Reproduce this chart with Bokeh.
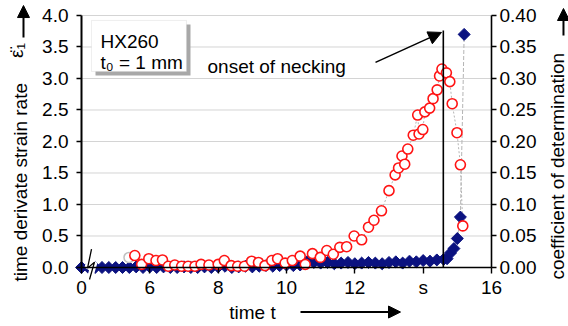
import math
from bokeh.plotting import figure
from bokeh.models import (Range1d, FixedTicker, Label, Arrow, NormalHead,
                          BoxAnnotation, NumeralTickFormatter, LinearAxis)
from bokeh.embed import file_html
from bokeh.resources import INLINE

FONT = "Liberation Sans"

# ---------------- data ----------------
# time derivative of strain rate (left axis)
blue_t = [4.0, 4.2, 4.4, 4.6, 4.8, 5.0, 5.2, 5.4, 5.6, 5.8, 6.0, 6.2, 6.4, 6.6, 6.8,
          7.0, 7.2, 7.4, 7.6, 7.8, 8.0, 8.2, 8.4, 8.6, 8.8, 9.0, 9.2, 9.4, 9.6, 9.8,
          10.0, 10.2, 10.4, 10.6, 10.8, 11.0, 11.2, 11.4, 11.6, 11.8, 12.0, 12.2, 12.4,
          12.6, 12.8, 13.0, 13.2, 13.4, 13.6, 13.8, 14.0, 14.2, 14.4, 14.6,
          14.7, 14.8, 14.9, 15.0, 15.09, 15.2]
blue_v = [0, 0, 0, 0, 0, 0, 0, 0,
          0.01, 0, 0.01, 0, 0.01, 0, 0, 0.01, 0, 0,
          0.01, 0, 0.01, 0.02, 0, 0.01, 0.02, 0.01, 0.02, 0.03,
          0.02, 0.03, 0.04, 0.03, 0.04,
          0.09, 0.08, 0.07, 0.08, 0.06, 0.07, 0.08, 0.06, 0.07, 0.08,
          0.07, 0.06, 0.08, 0.09, 0.07, 0.10, 0.09, 0.11, 0.10, 0.12, 0.13,
          0.14, 0.23, 0.30, 0.46, 0.80, 3.70]

# coefficient of determination (right axis)
red_t = [5.56, 5.76, 5.97, 6.18, 6.37, 6.54, 6.73, 6.93, 7.12, 7.32, 7.50, 7.73, 8.00,
         8.18, 8.38, 8.57, 8.77, 8.98, 9.18, 9.37, 9.57, 9.74, 9.96, 10.17, 10.40,
         10.55, 10.76, 10.99, 11.18, 11.37, 11.56, 11.76, 11.98, 12.20, 12.40, 12.56,
         12.78, 13.00, 13.18, 13.28, 13.38, 13.46, 13.55, 13.71, 13.84, 13.88, 13.99,
         14.05, 14.19, 14.29, 14.41, 14.48, 14.55, 14.68, 14.78, 14.85, 14.99, 15.09, 15.16]
red_v = [0.019, 0.005, 0.014, 0.011, 0.012, 0.002, 0.004, 0.002, 0.002, 0.002, 0.005,
         0.004, 0.005, 0.011, 0.003, 0.002, 0.002, 0.010, 0.008, 0.003, 0.011, 0.014,
         0.007, 0.011, 0.018, 0.005, 0.022, 0.016, 0.027, 0.021, 0.032, 0.033, 0.050,
         0.044, 0.064, 0.075, 0.090, 0.122, 0.147, 0.158, 0.177, 0.164, 0.188, 0.210,
         0.242, 0.212, 0.219, 0.247, 0.253, 0.268, 0.282, 0.304, 0.315, 0.309, 0.295,
         0.260, 0.214, 0.163, 0.066]

gray_t = [5.39]
gray_v = [0.016]

x_ticks = [4, 6, 8, 10, 12, 14, 16]
x_tick_labels = {4: "0", 14: "s"}
left_ticks = [0, 0.5, 1.0, 1.5, 2.0, 2.5, 3.0, 3.5, 4.0]
right_ticks = [0, 0.05, 0.10, 0.15, 0.20, 0.25, 0.30, 0.35, 0.40]

t_min, t_max = 4, 16
necking_t = 14.59
necking_top = 3.76

# ---------------- figure ----------------
# the frame covers the whole canvas; axes are pinned with fixed_location
p = figure(width=568, height=326, x_range=Range1d(1.629, 18.254),
           y_range=Range1d(-0.9365, 4.238),
           output_backend="svg", toolbar_location=None,
           min_border_left=0, min_border_right=0, min_border_top=0, min_border_bottom=0)
p.extra_y_ranges = {"right": Range1d(-0.09365, 0.4238)}
p.outline_line_color = None
p.background_fill_color = "white"
p.border_fill_color = "white"
p.xgrid.visible = False
p.ygrid.visible = False

# horizontal grid lines between the two y axes
p.segment(x0=[t_min] * len(left_ticks), y0=left_ticks, x1=[t_max] * len(left_ticks),
          y1=left_ticks, line_color="#d4d4d4", line_width=1)

def style_axis(ax):
    ax.axis_line_color = "black"
    ax.axis_line_width = 1.6
    ax.major_tick_line_color = "black"
    ax.major_tick_line_width = 1.4
    ax.major_tick_in = 0
    ax.major_tick_out = 5
    ax.minor_tick_in = 0
    ax.minor_tick_out = 0
    ax.major_label_text_font = FONT
    ax.major_label_text_font_size = "19px"
    ax.major_label_text_color = "black"

xa = p.xaxis[0]
xa.ticker = FixedTicker(ticks=x_ticks)
xa.major_label_overrides = x_tick_labels
xa.fixed_location = 0
xa.bounds = (t_min, t_max)
style_axis(xa)
xa.major_tick_out = 6
xa.major_label_standoff = 4

ya = p.yaxis[0]
ya.ticker = FixedTicker(ticks=left_ticks)
ya.formatter = NumeralTickFormatter(format="0.0")
ya.fixed_location = t_min
ya.bounds = (0, 4)
style_axis(ya)
ya.axis_line_width = 2
ya.major_label_standoff = 8

ra = LinearAxis(y_range_name="right", ticker=FixedTicker(ticks=right_ticks),
                formatter=NumeralTickFormatter(format="0.00"))
ra.fixed_location = t_max
ra.bounds = (0, 0.4)
style_axis(ra)
ra.major_label_standoff = 3
p.add_layout(ra, "right")

# ---------------- legend box ----------------
p.add_layout(BoxAnnotation(left=4.41, right=7.19, top=3.858, bottom=3.049,
                           fill_color="#a8a8a8", fill_alpha=1, line_color=None))
p.add_layout(BoxAnnotation(left=4.293, right=7.073, top=3.921, bottom=3.112,
                           fill_color="white", fill_alpha=1, line_color="#c8c8c8", line_width=1))
p.add_layout(Label(x=4.556, y=3.588, text="HX260", text_font=FONT, text_font_size="19px",
                   text_color="black", text_baseline="alphabetic"))
p.add_layout(Label(x=4.556, y=3.255, text="t\u2080 = 1 mm", text_font=FONT,
                   text_font_size="19px", text_color="black", text_baseline="alphabetic"))

# ---------------- series ----------------
p.line(red_t, red_v, y_range_name="right", line_color="#b4b4b4", line_width=1, line_dash="2 2")
p.line(blue_t, blue_v, line_color="#b4b4b4", line_width=1, line_dash="4 2")
p.scatter(blue_t, blue_v, marker="square", angle=math.pi / 4, size=8.5,
          fill_color="#0b1280", line_color="#0b1280", line_width=1)
p.scatter(gray_t, gray_v, y_range_name="right", marker="circle", size=10,
          fill_color="white", line_color="#c0c0c0", line_width=1.5)
p.scatter(red_t, red_v, y_range_name="right", marker="circle", size=10,
          fill_color="white", line_color="#ff1414", line_width=1.6)

# axis break (white gap, then the zigzag)
break_t = [4.293, 4.176, 4.380, 4.234]
break_v = [0.291, -0.01, 0.085, -0.19]
p.line(break_t, break_v, line_color="white", line_width=6)
p.line(break_t, break_v, line_color="black", line_width=1.3)

# onset of necking
p.segment(x0=[necking_t], y0=[0], x1=[necking_t], y1=[necking_top],
          line_color="black", line_width=1.6)
p.add_layout(Arrow(end=NormalHead(size=13, fill_color="black", line_color="black"),
                   x_start=12.605, y_start=3.255, x_end=14.537, y_end=3.731,
                   line_color="black", line_width=1.5))
p.add_layout(Label(x=7.688, y=3.192, text="onset of necking", text_font=FONT,
                   text_font_size="19px", text_color="black", text_baseline="alphabetic"))

# ---------------- axis titles ----------------
p.add_layout(Label(x=2.215, y=1.353, text="time derivate strain rate", angle=math.pi / 2,
                   text_font=FONT, text_font_size="19px", text_color="black",
                   text_align="center", text_baseline="middle"))
p.add_layout(Label(x=2.098, y=3.445, text="\u03b5\u0308\u2081", angle=math.pi / 2,
                   text_font=FONT, text_font_size="19px", text_color="black",
                   text_align="center", text_baseline="middle"))
p.add_layout(Arrow(end=NormalHead(size=12, fill_color="black", line_color="black"),
                   x_start=2.302, y_start=3.651, x_end=2.302, y_end=4.158,
                   line_color="black", line_width=2))

p.add_layout(Label(x=17.932, y=1.607, text="coefficient of determination", angle=math.pi / 2,
                   text_font=FONT, text_font_size="19px", text_color="black",
                   text_align="center", text_baseline="middle"))
p.add_layout(Arrow(end=NormalHead(size=12, fill_color="black", line_color="black"),
                   x_start=18.107, y_start=3.683, x_end=18.107, y_end=4.111,
                   line_color="black", line_width=2))

p.add_layout(Label(x=9.005, y=-0.72, text="time t", text_font=FONT, text_font_size="19px",
                   text_color="black", text_align="center", text_baseline="alphabetic"))
p.add_layout(Arrow(end=NormalHead(size=12, fill_color="black", line_color="black"),
                   x_start=10.41, y_start=-0.707, x_end=13.337, y_end=-0.707,
                   line_color="black", line_width=2))

open("out.html", "w").write(file_html(p, INLINE))
